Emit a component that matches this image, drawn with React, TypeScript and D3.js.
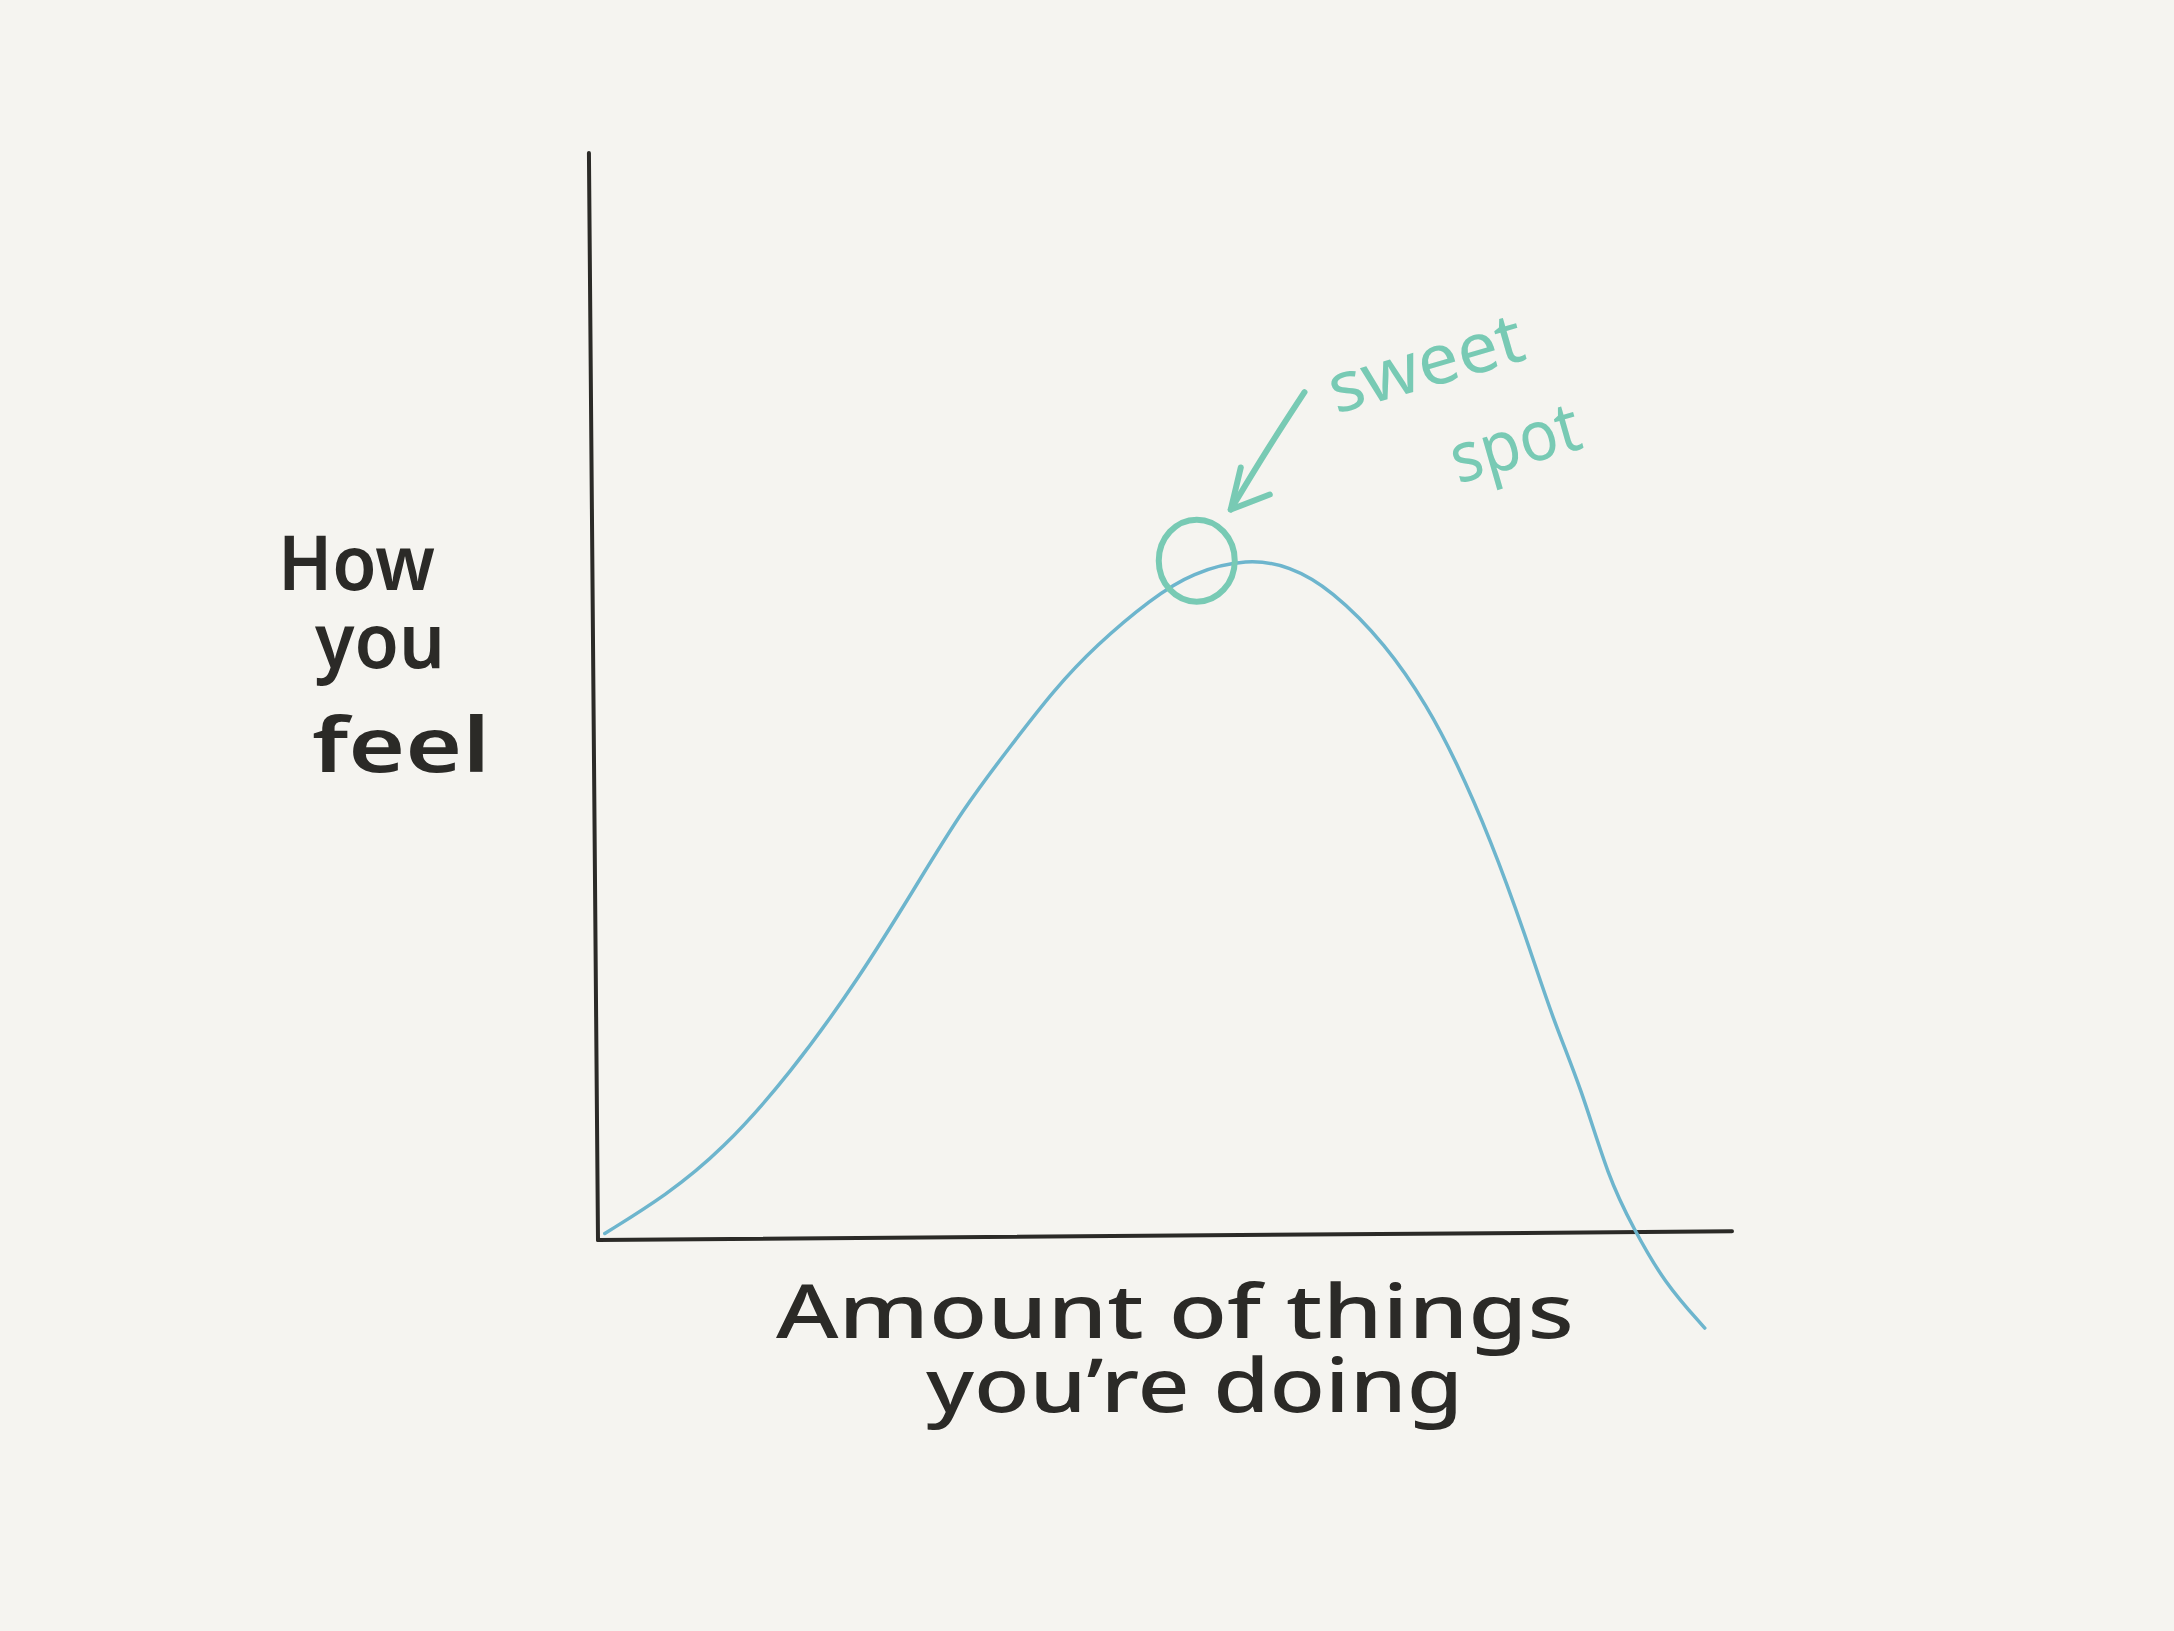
import React from "react";
import * as d3 from "d3";

// Curve: "how you feel" vs "amount of things you're doing"
const curveX = [0.6, 6.0, 10.9, 16.9, 23.1, 28.0, 32.2, 36.5, 40.2, 43.9, 48.8, 52.4, 57.3, 61.0, 64.6, 69.5, 73.2, 75.6, 78.7, 81.8, 84.2, 86.7, 89.1, 91.3, 94.0, 97.6];
const curveY = [0.6, 4.1, 8.2, 15.2, 24.2, 32.5, 39.7, 45.6, 50.6, 54.7, 59.0, 61.4, 62.7, 62.0, 59.9, 54.8, 49.0, 44.2, 36.9, 28.0, 20.3, 14.0, 5.7, 1.1, -3.9, -8.1];

const xDomain = [0, 100];
const yDomain = [0, 100];

// Sweet spot annotation (data units)
const sweetSpot = { x: 52.8, y: 62.5 };
const arrowX = [62.3, 59.1, 55.8];
const arrowY = [78.0, 72.9, 67.2];

const yLabelLines = ["How", "you", "feel"];
const xLabelLines = ["Amount of things", "you’re doing"];
const noteLines = ["sweet", "spot"];

const BG = "#f5f4f0";
const INK = "#2b2a27";
const BLUE = "#6db5cd";
const TEAL = "#78cab4";

export default function App() {
  const W = 2174;
  const H = 1631;
  const x = d3.scaleLinear().domain(xDomain).range([598, 1732]);
  const y = d3.scaleLinear().domain(yDomain).range([1240, 153]);

  const pts: [number, number][] = curveX.map((v, i) => [x(v), y(curveY[i])]);
  const line = d3.line<[number, number]>().curve(d3.curveBasis);
  const curvePath = line(pts) || "";

  const yAxisPath = `M${x(-0.8)},${y(100)} L${x(0)},${y(0)}`;
  const xAxisPath = `M${x(0)},${y(0)} L${x(100)},${y(0.8)}`;

  const arrowPts: [number, number][] = arrowX.map((v, i) => [x(v), y(arrowY[i])]);
  const arrowPath = d3.line<[number, number]>().curve(d3.curveBasis)(arrowPts) || "";
  const tip = arrowPts[arrowPts.length - 1];

  const cx = x(sweetSpot.x);
  const cy = y(sweetSpot.y);

  const hand = "'Noto Sans', 'Open Sans', sans-serif";

  return (
    <div style={{ position: "fixed", left: 0, top: 0, width: W, height: H }}>
      <svg width={W} height={H} viewBox={`0 0 ${W} ${H}`} style={{ display: "block" }}>
        <rect x={0} y={0} width={W} height={H} fill={BG} />
        {/* axes */}
        <path d={yAxisPath} stroke={INK} strokeWidth={4} fill="none" strokeLinecap="round" />
        <path d={xAxisPath} stroke={INK} strokeWidth={4} fill="none" strokeLinecap="round" />
        {/* curve */}
        <path d={curvePath} stroke={BLUE} strokeWidth={3.5} fill="none" strokeLinecap="round" />
        {/* sweet spot circle */}
        <ellipse cx={cx} cy={cy} rx={38} ry={41} stroke={TEAL} strokeWidth={6} fill="none" />
        {/* arrow */}
        <path d={arrowPath} stroke={TEAL} strokeWidth={6} fill="none" strokeLinecap="round" />
        <path d={`M${tip[0] + 10},${tip[1] - 42} L${tip[0]},${tip[1]} L${tip[0] + 39},${tip[1] - 15}`} stroke={TEAL} strokeWidth={6} fill="none" strokeLinecap="round" strokeLinejoin="round" />
        {/* y label */}
        <g fontFamily={hand} fontWeight={600} fill={INK} fontSize={76}>
          <text x={278} y={590} textLength={157} lengthAdjust="spacingAndGlyphs">{yLabelLines[0]}</text>
          <text x={315} y={668} textLength={130} lengthAdjust="spacingAndGlyphs">{yLabelLines[1]}</text>
          <text x={312} y={772} textLength={178} lengthAdjust="spacingAndGlyphs">{yLabelLines[2]}</text>
        </g>
        {/* x label */}
        <g fontFamily={hand} fontWeight={500} fill={INK} fontSize={74}>
          <text x={776} y={1338} textLength={798} lengthAdjust="spacingAndGlyphs">{xLabelLines[0]}</text>
          <text x={926} y={1412} textLength={537} lengthAdjust="spacingAndGlyphs">{xLabelLines[1]}</text>
        </g>
        {/* note */}
        <g fontFamily={hand} fontWeight={400} fill={TEAL} fontSize={70}>
          <text transform="translate(1336,414) rotate(-16)" textLength={200} lengthAdjust="spacingAndGlyphs">{noteLines[0]}</text>
          <text transform="translate(1458,484) rotate(-16)" textLength={132} lengthAdjust="spacingAndGlyphs">{noteLines[1]}</text>
        </g>
      </svg>
    </div>
  );
}
